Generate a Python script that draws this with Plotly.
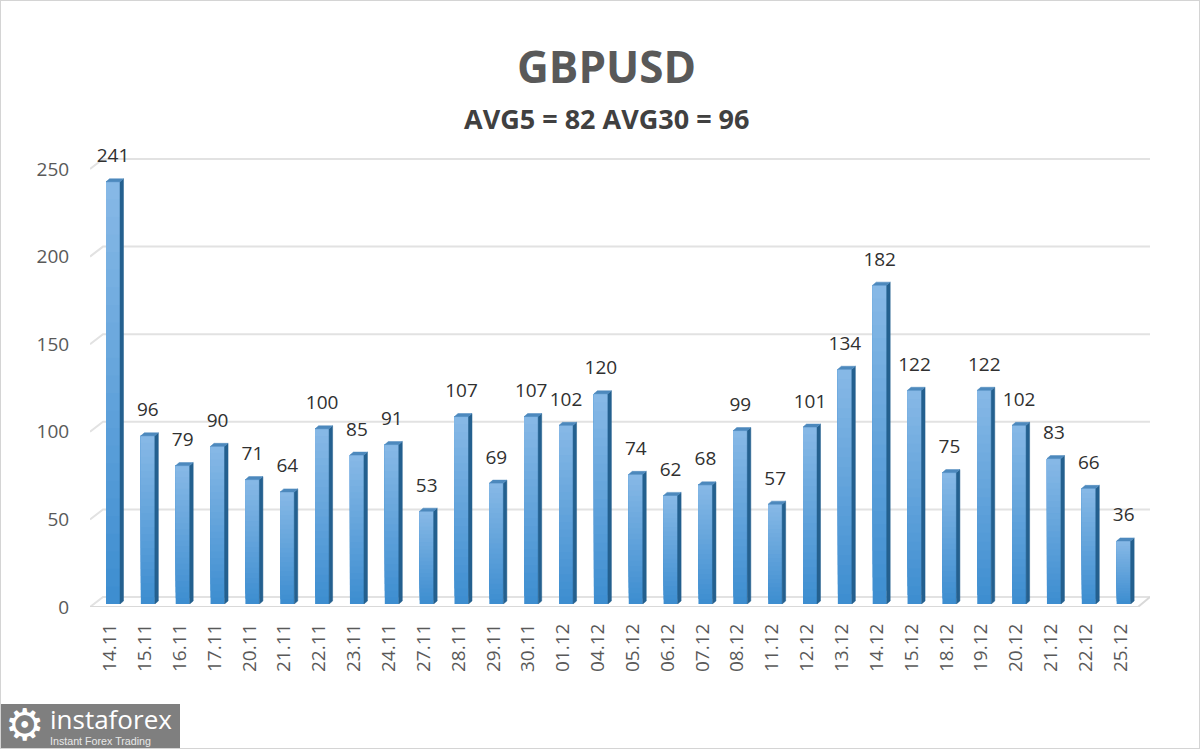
"""GBPUSD daily volatility, 3D-look Excel column chart."""
import plotly.graph_objects as go

W, H = 1200, 749

DATES = ['14.11', '15.11', '16.11', '17.11', '20.11', '21.11', '22.11', '23.11', '24.11', '27.11',
         '28.11', '29.11', '30.11', '01.12', '04.12', '05.12', '06.12', '07.12', '08.12', '11.12',
         '12.12', '13.12', '14.12', '15.12', '18.12', '19.12', '20.12', '21.12', '22.12', '25.12']
VALUES = [241, 96, 79, 90, 71, 64, 100, 85, 91, 53,
          107, 69, 107, 102, 120, 74, 62, 68, 99, 57,
          101, 134, 182, 122, 75, 122, 102, 83, 66, 36]
Y_TICKS = [0, 50, 100, 150, 200, 250]

TITLE = 'GBPUSD'
SUBTITLE = 'AVG5 = 82 AVG30 = 96'

COLOR_TEXT = '#595959'
COLOR_LABEL = '#303030'
COLOR_GRID = '#e2e2e2'
COLOR_FLOOR = '#d9d9d9'
COLOR_SIDE = '#24608f'
COLOR_CAP = '#4d89bd'

# pixel geometry of the chart
STEP = 34.85          # px per category
X0 = 110              # px of first category centre
LEFT, RIGHT = 90, 1150
PX_PER_UNIT = 1.752
Y_MAX = 262
LABEL_ZERO = 607      # front edge of the floor, tick labels line up on it
BAR_ZERO = 604        # bars stand in the middle of the floor
DEPTH_X, DEPTH_Y = 13, 10   # wall offset from front edge


def dx(px):
    return px / STEP


def dy(px):
    return px / PX_PER_UNIT


def domain(zero_px):
    top = zero_px - Y_MAX * PX_PER_UNIT
    return [1 - zero_px / H, 1 - top / H]


def mix(c1, c2, t):
    return '#' + ''.join(f'{round(a + (b - a) * t):02x}' for a, b in zip(c1, c2))


def note(text, x, y, size, color, family='Open Sans, sans-serif', xanchor='center'):
    return dict(text=text, x=x / W, y=1 - y / H, xref='paper', yref='paper', showarrow=False,
                xanchor=xanchor, yanchor='middle', font=dict(family=family, size=size, color=color))


x_pos = list(range(len(DATES)))
x_left = (LEFT - X0) / STEP
x_front_right = (1138 - X0) / STEP
x_right = (RIGHT - X0) / STEP

fig = go.Figure()

# back wall gridlines with their slanted stubs
grid_x, grid_y = [], []
for t in Y_TICKS:
    grid_x += [x_left, x_left + dx(DEPTH_X), x_right, None]
    grid_y += [t, t + dy(DEPTH_Y), t + dy(DEPTH_Y), None]
fig.add_trace(go.Scatter(x=grid_x, y=grid_y, mode='lines', yaxis='y',
                         line=dict(color=COLOR_GRID, width=2), hoverinfo='skip'))

# floor
fig.add_trace(go.Scatter(x=[x_left, x_front_right, x_right], y=[0, 0, dy(DEPTH_Y)],
                         mode='lines', yaxis='y',
                         line=dict(color=COLOR_FLOOR, width=2), hoverinfo='skip'))

# front face: vertical gradient, each band runs to the top of the column and paints over the last
BANDS = 24
BOTTOM_RGB, TOP_RGB = (62, 142, 208), (134, 184, 230)
for b in range(BANDS):
    fig.add_trace(go.Bar(
        x=x_pos,
        y=[v * (1 - b / BANDS) for v in VALUES],
        base=[v * b / BANDS for v in VALUES],
        width=dx(14), offset=dx(-4),
        marker=dict(color=mix(BOTTOM_RGB, TOP_RGB, b / (BANDS - 1)), line_width=0),
        yaxis='y2', hoverinfo='skip',
    ))

# side and top faces of the columns
side_x, side_y, cap_x, cap_y = [], [], [], []
for i, v in zip(x_pos, VALUES):
    xl = i + dx(-4)
    xr = i + dx(10)
    off_x, off_y = dx(3.5), dy(3)
    side_x += [xr, xr + off_x, xr + off_x, xr, xr, None]
    side_y += [0, off_y, v + off_y, v, 0, None]
    cap_x += [xl, xl + off_x, xr + off_x, xr, xl, None]
    cap_y += [v, v + off_y, v + off_y, v, v, None]
fig.add_trace(go.Scatter(x=side_x, y=side_y, mode='lines', fill='toself', fillcolor=COLOR_SIDE,
                         line=dict(color=COLOR_SIDE, width=0.5), yaxis='y2', hoverinfo='skip'))
fig.add_trace(go.Scatter(x=cap_x, y=cap_y, mode='lines', fill='toself', fillcolor=COLOR_CAP,
                         line=dict(color=COLOR_CAP, width=0.5), yaxis='y2', hoverinfo='skip'))

# value labels
fig.add_trace(go.Scatter(
    x=[i + dx(3) for i in x_pos], y=VALUES, mode='markers+text', text=[str(v) for v in VALUES],
    textposition='top center',
    textfont=dict(family='Open Sans, sans-serif', size=19, color=COLOR_LABEL),
    marker=dict(size=22, opacity=0),
    yaxis='y2', hoverinfo='skip',
))

fig.update_layout(
    width=W, height=H,
    autosize=False,
    showlegend=False,
    barmode='overlay',
    plot_bgcolor='rgba(0,0,0,0)',
    paper_bgcolor='#ffffff',
    margin=dict(l=0, r=0, t=0, b=0),
    font=dict(family='Open Sans, sans-serif', color=COLOR_TEXT),
    xaxis=dict(
        domain=[LEFT / W, RIGHT / W], range=[x_left, x_right], automargin=False,
        tickmode='array', tickvals=x_pos, ticktext=DATES, tickangle=-90,
        tickfont=dict(size=19, color=COLOR_TEXT),
        showgrid=False, zeroline=False, showline=False,
        ticks='outside', ticklen=8, tickcolor='rgba(0,0,0,0)',
    ),
    yaxis=dict(
        domain=domain(LABEL_ZERO), range=[0, Y_MAX], automargin=False,
        tickmode='array', tickvals=Y_TICKS,
        tickfont=dict(size=19, color=COLOR_TEXT),
        showgrid=False, zeroline=False, showline=False,
        ticks='outside', ticklen=16, tickcolor='rgba(0,0,0,0)',
    ),
    yaxis2=dict(
        domain=domain(BAR_ZERO), range=[0, Y_MAX], anchor='x', automargin=False,
        visible=False, showgrid=False, zeroline=False,
    ),
    annotations=[
        note(f'<b>{TITLE}</b>', 606, 66, 44, '#595959'),
        note(f'<b>{SUBTITLE}</b>', 606, 118, 27, '#404040'),
        # watermark
        note('\u2699', 24, 724, 44, '#ffffff', family='DejaVu Sans'),
        note('instaforex', 48, 719, 26, '#ffffff', xanchor='left'),
        note('Instant Forex Trading', 48, 741, 10.7, '#e8e8e8', family='Liberation Sans', xanchor='left'),
    ],
    shapes=[
        dict(type='rect', xref='paper', yref='paper', x0=0, x1=1, y0=0, y1=1,
             line=dict(color='#d4d4d4', width=2), fillcolor='rgba(0,0,0,0)'),
        dict(type='rect', xref='paper', yref='paper', x0=0, x1=180 / W, y0=0, y1=45 / H,
             line_width=0, fillcolor='#7f7f7f', layer='below'),
    ],
)

# page margin would push the fixed-size figure 8px off
fig.write_html('out.html', default_width=f'{W}px', default_height=f'{H}px',
               config=dict(displayModeBar=False, responsive=False),
               post_script="document.body.style.margin='0';")
